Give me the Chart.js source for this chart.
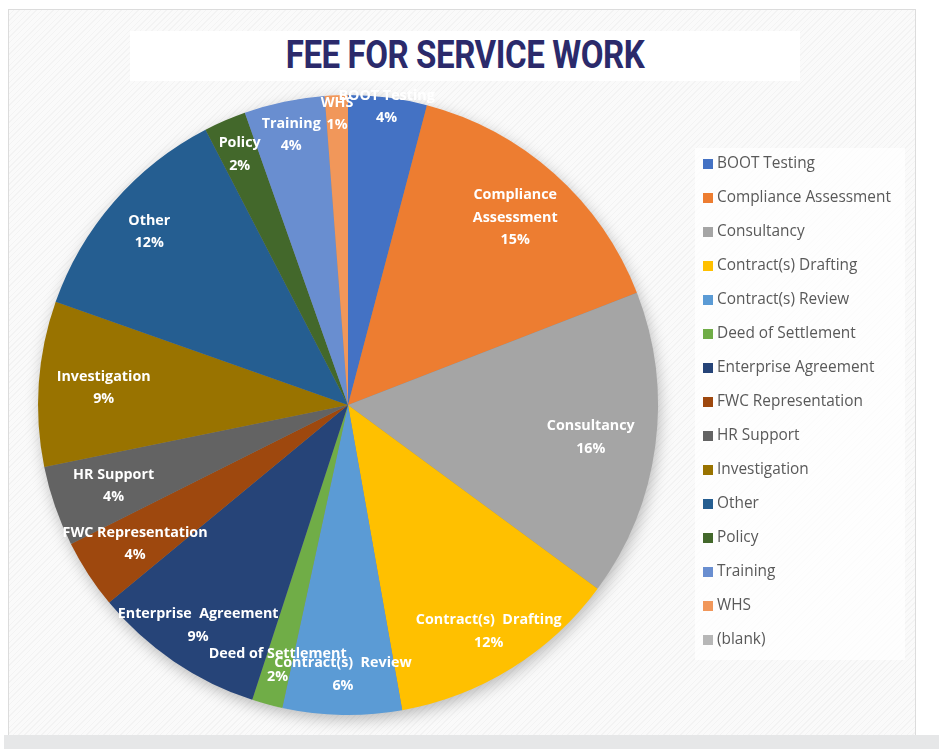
<!DOCTYPE html>
<html>
<head>
<meta charset="utf-8">
<script src="https://cdn.jsdelivr.net/npm/chart.js@4.4.1/dist/chart.umd.min.js"></script>
<style>
  html, body { margin: 0; padding: 0; background: #fff; }
  #wrap { position: relative; width: 939px; height: 749px; overflow: hidden; }
  #frame {
    position: absolute; left: 8px; top: 9px; width: 906px; height: 725px;
    border: 1px solid #dcdcdc;
    background: repeating-linear-gradient(135deg, #fafafa 0px, #fafafa 3px, #f3f3f3 3px, #f3f3f3 4px);
  }
  #strip { position: absolute; left: 4px; top: 735px; width: 935px; height: 14px; background: #e6e7e8; }
  #titlebox { position: absolute; left: 130px; top: 31px; width: 670px; height: 50px; background: #fff; }
  #title {
    position: absolute; left: 0; top: 2px; width: 670px; text-align: center;
    font-family: "Liberation Sans Narrow", Roboto, sans-serif; font-weight: bold; font-size: 38px;
    color: #2b2a6b; letter-spacing: -0.5px;
    transform: scaleX(0.87); transform-origin: 50% 50%;
  }
  #legendbox { position: absolute; left: 695px; top: 148px; width: 210px; height: 512px; background: rgba(255,255,255,0.75); }
  canvas { position: absolute; left: 0; top: 0; }
</style>
</head>
<body>
<div id="wrap">
  <div id="frame"></div>
  <div id="strip"></div>
  <div id="titlebox"><div id="title">FEE FOR SERVICE WORK</div></div>
  <div id="legendbox"></div>
  <canvas id="pie" width="939" height="749"></canvas>
</div>
<script>
// 数据
const categories = ['BOOT Testing', 'Compliance Assessment', 'Consultancy', 'Contract(s) Drafting',
  'Contract(s) Review', 'Deed of Settlement', 'Enterprise Agreement', 'FWC Representation',
  'HR Support', 'Investigation', 'Other', 'Policy', 'Training', 'WHS', '(blank)'];
const sliceLabels = ['BOOT Testing', 'Compliance\nAssessment', 'Consultancy', 'Contract(s)  Drafting',
  'Contract(s)  Review', 'Deed of Settlement', 'Enterprise  Agreement', 'FWC Representation',
  'HR Support', 'Investigation', 'Other', 'Policy', 'Training', 'WHS', ''];
const shares = [4.1, 15.0, 16.0, 12.1, 6.2, 1.6, 9.0, 3.6, 4.2, 8.6, 12.0, 2.2, 4.2, 1.2, 0];

// Excel 配色
const colors = ['#4472C4', '#ED7D31', '#A5A5A5', '#FFC000', '#5B9BD5', '#70AD47', '#264478',
  '#9E480E', '#636363', '#997300', '#255E91', '#43682B', '#698ED0', '#F1975A', '#B7B7B7'];

// 标签离圆心的比例
const labelRadius = [0.97, 0.81, 0.79, 0.86, 0.87, 0.87, 0.86, 0.82, 0.8, 0.79, 0.85, 0.88, 0.89, 0.94, 0.8];

const shadowPlugin = {
  id: 'shadow',
  beforeDatasetsDraw(chart) {
    const arc = chart.getDatasetMeta(0).data[0];
    if (!arc) return;
    const ctx = chart.ctx;
    ctx.save();
    ctx.shadowColor = 'rgba(0,0,0,0.28)';
    ctx.shadowBlur = 16;
    ctx.shadowOffsetX = 2;
    ctx.shadowOffsetY = 5;
    ctx.fillStyle = '#888';
    ctx.beginPath();
    ctx.arc(arc.x, arc.y, arc.outerRadius - 1, 0, Math.PI * 2);
    ctx.fill();
    ctx.restore();
  }
};

const sliceLabelPlugin = {
  id: 'sliceLabels',
  afterDatasetsDraw(chart) {
    const ctx = chart.ctx;
    const data = chart.data.datasets[0].data;
    const total = data.reduce((a, b) => a + b, 0);
    ctx.save();
    ctx.fillStyle = '#fff';
    ctx.font = 'bold 14.3px "Open Sans", sans-serif';
    ctx.textAlign = 'center';
    ctx.textBaseline = 'middle';
    chart.getDatasetMeta(0).data.forEach((arc, i) => {
      if (!data[i]) return;
      const mid = (arc.startAngle + arc.endAngle) / 2;
      const r = arc.outerRadius * labelRadius[i];
      const x = arc.x + Math.cos(mid) * r;
      const y = arc.y + Math.sin(mid) * r;
      const lines = sliceLabels[i].split('\n');
      lines.push(Math.round(data[i] / total * 100) + '%');
      const lh = 22.5;
      const y0 = y - (lines.length - 1) * lh / 2;
      lines.forEach((t, k) => ctx.fillText(t, x, y0 + k * lh));
    });
    ctx.restore();
  }
};

const legendPlugin = {
  id: 'sideLegend',
  afterDraw(chart) {
    const ctx = chart.ctx;
    ctx.save();
    ctx.font = '15.4px "Open Sans", sans-serif';
    ctx.textBaseline = 'middle';
    chart.data.labels.forEach((name, i) => {
      const y = 164 + i * 34;
      ctx.fillStyle = colors[i];
      ctx.fillRect(703, y - 5, 10, 10);
      ctx.fillStyle = '#595959';
      ctx.fillText(name, 717, y);
    });
    ctx.restore();
  }
};

new Chart(document.getElementById('pie'), {
  type: 'pie',
  data: {
    labels: categories,
    datasets: [{
      data: shares,
      backgroundColor: colors,
      borderWidth: 0
    }]
  },
  options: {
    responsive: false,
    animation: false,
    rotation: 0,
    layout: { padding: { left: 38, top: 95, right: 281, bottom: 34 } },
    plugins: {
      legend: { display: false },
      tooltip: { enabled: false },
      title: { display: false }
    }
  },
  plugins: [shadowPlugin, sliceLabelPlugin, legendPlugin]
});
</script>
</body>
</html>
